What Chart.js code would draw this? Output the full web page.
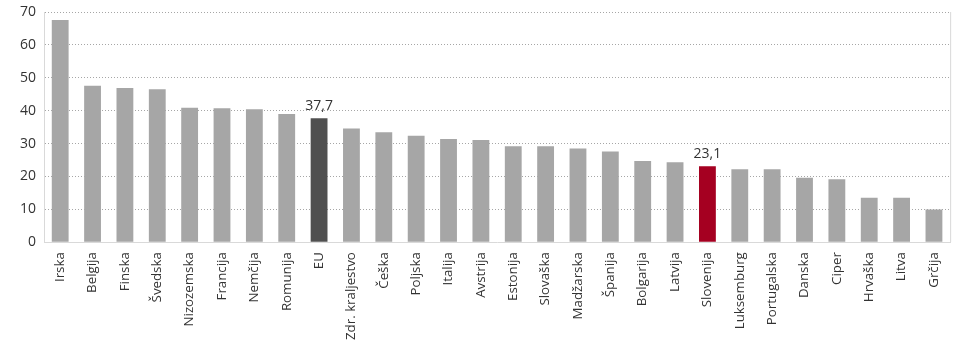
<!DOCTYPE html>
<html lang="sl">
<head>
    <meta charset="UTF-8">
    <title>Države EU</title>
    <style>
        body { margin: 0; background: #fff; }
        .wrap { width: 960px; height: 350px; }
    </style>
    <script src="https://cdn.jsdelivr.net/npm/chart.js"></script>
</head>
<body>
<div class="wrap"><canvas id="graf"></canvas></div>
<script>
    const drzave = ['Irska', 'Belgija', 'Finska', 'Švedska', 'Nizozemska', 'Francija', 'Nemčija', 'Romunija', 'EU',
        'Zdr. kraljestvo', 'Češka', 'Poljska', 'Italija', 'Avstrija', 'Estonija', 'Slovaška', 'Madžarska', 'Španija',
        'Bolgarija', 'Latvija', 'Slovenija', 'Luksemburg', 'Portugalska', 'Danska', 'Ciper', 'Hrvaška', 'Litva', 'Grčija'];
    const vrednosti = [67.6, 47.6, 46.9, 46.5, 40.9, 40.7, 40.4, 39.0, 37.7,
        34.6, 33.4, 32.4, 31.4, 31.1, 29.2, 29.2, 28.5, 27.6,
        24.7, 24.3, 23.1, 22.2, 22.2, 19.6, 19.1, 13.5, 13.5, 9.9];
    const oznaceni = ['EU', 'Slovenija'];

    const barve = drzave.map(d => d === 'EU' ? '#505050' : (d === 'Slovenija' ? '#a50021' : '#a6a6a6'));

    // napisi vrednosti nad izbranimi stolpci
    const napisiVrednosti = {
        id: 'napisiVrednosti',
        afterDatasetsDraw(chart) {
            const ctx = chart.ctx;
            const meta = chart.getDatasetMeta(0);
            ctx.save();
            ctx.font = '14px "Open Sans"';
            ctx.fillStyle = '#333';
            ctx.textAlign = 'center';
            ctx.textBaseline = 'bottom';
            meta.data.forEach((bar, i) => {
                if (!oznaceni.includes(drzave[i])) return;
                ctx.fillText(vrednosti[i].toFixed(1).replace('.', ','), bar.x, bar.y - 5);
            });
            ctx.restore();
        }
    };

    // desni rob risalne površine
    const desniRob = {
        id: 'desniRob',
        afterDraw(chart) {
            const a = chart.chartArea, ctx = chart.ctx;
            ctx.save();
            ctx.strokeStyle = '#d9d9d9';
            ctx.beginPath();
            ctx.moveTo(a.right + 0.5, a.top);
            ctx.lineTo(a.right + 0.5, a.bottom);
            ctx.stroke();
            ctx.restore();
        }
    };

    Chart.defaults.font.family = '"Open Sans", sans-serif';
    Chart.defaults.color = '#333';

    new Chart(document.getElementById('graf').getContext('2d'), {
        type: 'bar',
        data: {
            labels: drzave,
            datasets: [{
                data: vrednosti,
                backgroundColor: barve,
                borderWidth: 0,
                barPercentage: 0.52,
                categoryPercentage: 1
            }]
        },
        options: {
            responsive: true,
            maintainAspectRatio: false,
            animation: false,
            layout: { padding: { left: 12, right: 5, top: 0, bottom: 0 } },
            plugins: {
                legend: { display: false },
                tooltip: { enabled: false }
            },
            scales: {
                x: {
                    grid: { display: false, drawTicks: false },
                    border: { color: '#d9d9d9' },
                    ticks: {
                        font: { size: 13.3 },
                        maxRotation: 90,
                        minRotation: 90,
                        padding: 10,
                        autoSkip: false
                    }
                },
                y: {
                    min: 0,
                    max: 70,
                    grid: { color: '#a6a6a6', drawTicks: false, lineWidth: 1 },
                    border: { color: '#d9d9d9', dash: [1, 2] },
                    ticks: { stepSize: 10, font: { size: 14 }, padding: 8 },
                    afterFit(scale) {
                        scale.paddingTop = 12;
                    }
                }
            }
        },
        plugins: [napisiVrednosti, desniRob]
    });
</script>
</body>
</html>
